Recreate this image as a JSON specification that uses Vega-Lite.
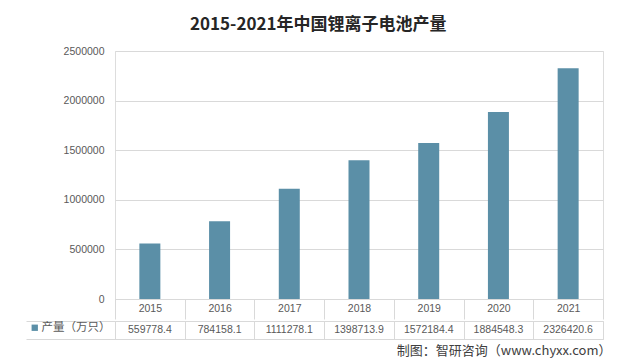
{
  "$schema": "https://vega.github.io/schema/vega-lite/v6.json",
  "background": "white",
  "padding": {"left": 25, "top": 15, "right": 8, "bottom": 4},
  "title": {
    "text": "2015-2021年中国锂离子电池产量",
    "font": "Noto Sans CJK SC",
    "fontSize": 17,
    "fontWeight": "bold",
    "color": "#262626",
    "anchor": "middle",
    "offset": 12
  },
  "datasets": {
    "d": [
      {"year": "2015", "value": 559778.4, "series": "产量（万只）"},
      {"year": "2016", "value": 784158.1, "series": "产量（万只）"},
      {"year": "2017", "value": 1111278.1, "series": "产量（万只）"},
      {"year": "2018", "value": 1398713.9, "series": "产量（万只）"},
      {"year": "2019", "value": 1572184.4, "series": "产量（万只）"},
      {"year": "2020", "value": 1884548.3, "series": "产量（万只）"},
      {"year": "2021", "value": 2326420.6, "series": "产量（万只）"}
    ]
  },
  "spacing": 0,
  "vconcat": [
    {
      "width": 488,
      "height": 248,
      "data": {"name": "d"},
      "mark": {"type": "bar", "width": 21, "color": "#5b8fa7"},
      "encoding": {
        "x": {
          "field": "year",
          "type": "ordinal",
          "scale": {"type": "band", "paddingInner": 0, "paddingOuter": 0},
          "axis": {
            "title": null,
            "tickBand": "extent",
            "tickSize": 20,
            "tickColor": "#d9d9d9",
            "domainColor": "#d9d9d9",
            "labelAngle": 0,
            "labelPadding": -16,
            "labelBaseline": "top",
            "labelColor": "#595959",
            "labelFont": "Liberation Sans",
            "labelFontSize": 10.5,
            "grid": false
          }
        },
        "y": {
          "field": "value",
          "type": "quantitative",
          "scale": {"domain": [0, 2500000]},
          "axis": {
            "title": null,
            "values": [0, 500000, 1000000, 1500000, 2000000, 2500000],
            "format": "d",
            "grid": true,
            "gridColor": "#d9d9d9",
            "domain": false,
            "ticks": false,
            "labelPadding": 11,
            "labelColor": "#595959",
            "labelFont": "Liberation Sans",
            "labelFontSize": 10.5
          }
        }
      }
    },
    {
      "width": 488,
      "height": 18,
      "data": {"name": "d"},
      "encoding": {
        "x": {
          "field": "year",
          "type": "ordinal",
          "scale": {"type": "band", "paddingInner": 0, "paddingOuter": 0},
          "axis": {
            "title": "制图：智研咨询（www.chyxx.com）",
            "titleFont": "Noto Sans CJK SC",
            "titleFontSize": 13,
            "titleFontWeight": "normal",
            "titleColor": "#404040",
            "titleAlign": "right",
            "titleX": 496,
            "titlePadding": 5,
            "labels": false,
            "ticks": false,
            "domain": false,
            "grid": true,
            "tickBand": "extent",
            "gridColor": "#d9d9d9"
          }
        },
        "y": {
          "field": "series",
          "type": "nominal",
          "scale": {"type": "band", "paddingInner": 0, "paddingOuter": 0},
          "axis": {
            "title": null,
            "labels": false,
            "tickBand": "extent",
            "tickSize": 89,
            "tickColor": "#d9d9d9",
            "domain": false,
            "grid": true,
            "gridColor": "#d9d9d9"
          }
        }
      },
      "layer": [
        {
          "mark": {"type": "text", "font": "Liberation Sans", "fontSize": 10.5, "color": "#595959"},
          "encoding": {
            "text": {"field": "value", "type": "quantitative", "format": ".1f"}
          }
        },
        {
          "mark": {"type": "square", "opacity": 0},
          "encoding": {
            "color": {
              "field": "series",
              "type": "nominal",
              "scale": {"range": ["#5b8fa7"]},
              "legend": {
                "title": null,
                "orient": "none",
                "legendX": -86,
                "legendY": 271,
                "padding": 0,
                "symbolType": "square",
                "symbolSize": 40,
                "symbolOpacity": 1,
                "symbolStrokeWidth": 0,
                "labelFont": "Noto Sans CJK SC",
                "labelFontSize": 11.5,
                "labelColor": "#595959",
                "labelOffset": 1
              }
            }
          }
        }
      ]
    }
  ]
}
